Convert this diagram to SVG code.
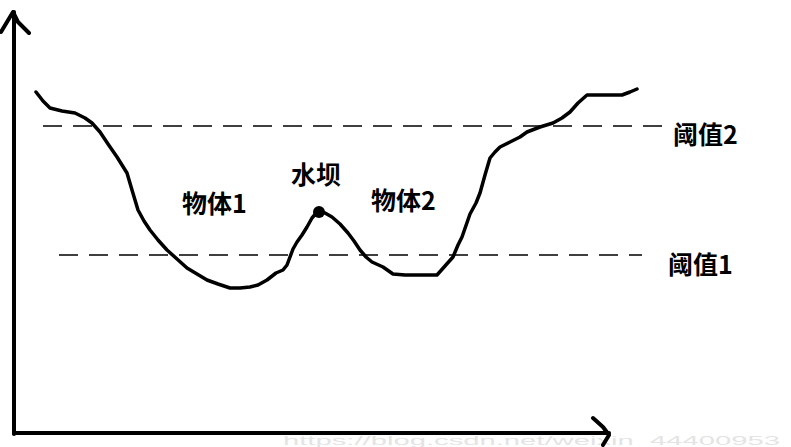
<svg xmlns="http://www.w3.org/2000/svg" width="791" height="447" viewBox="0 0 791 447">
<style>
.ax{fill:none;stroke:#000;stroke-width:4;stroke-linecap:round;stroke-linejoin:round}
.curve{fill:none;stroke:#000;stroke-width:3.5;stroke-linecap:round;stroke-linejoin:round}
.dash{fill:none;stroke:#000;stroke-width:1.6;stroke-dasharray:19 11}
.lbl{font-family:"Noto Sans CJK SC","Microsoft YaHei",sans-serif;font-weight:bold;font-size:25px;fill:#000}
.wm{font-family:"Liberation Sans",Arial,sans-serif;font-size:13px;fill:#e4e4e4}
</style>
<rect width="791" height="447" fill="#fff"/>
<text class="wm" x="283" y="445" textLength="497" lengthAdjust="spacingAndGlyphs">https://blog.csdn.net/weixin_44400953</text>
<g id="axes">
<path class="ax" d="M14,434 L14,12"/>
<path class="ax" d="M1,32 L13,12 L18,22 L29,33"/>
<path class="ax" d="M14,433 L609,433"/>
<path class="ax" d="M593,418 L603,427 L609,435 L603,445"/>
</g>
<g id="connectors">
<path id="threshold2-line" class="dash" d="M43,126 L662,126"/>
<path id="threshold1-line" class="dash" d="M59,255 L642,255"/>
<polyline id="curve" class="curve" points="36,92 43,101 50,108 62,111 75,113 85,118 92,123 100,132 108,144 117,157 122,165 127,173 132,190 138,210 144,221 150,230 158,240 167,250 177,259 187,268 197,274 207,280 218,284 230,288 240,288 250,287 258,285 267,280 276,273 283,270 287,265 290,257 293,249 297,242 302,235 307,227 312,218 318,211 325,213 332,217 340,224 348,233 354,241 360,250 366,257 372,262 383,267 393,274 405,275 420,275 437,275 445,266 453,257 458,245 462,237 470,214 476,203 480,193 485,175 490,158 495,152 500,147 510,142 520,137 527,132 540,127 553,123 562,118 570,112 578,103 587,95 600,95 612,95 622,95 630,92 637,89"/>
</g>
<g id="dam-node">
<circle cx="319" cy="212" r="6" fill="#000"/>
<text class="lbl" x="291" y="184">水坝</text>
</g>
<g id="object1-node"><text class="lbl" x="182" y="213">物体1</text></g>
<g id="object2-node"><text class="lbl" x="371" y="210">物体2</text></g>
<g id="threshold2-node"><text class="lbl" x="673" y="144">阈值2</text></g>
<g id="threshold1-node"><text class="lbl" x="668" y="274">阈值1</text></g>
</svg>
